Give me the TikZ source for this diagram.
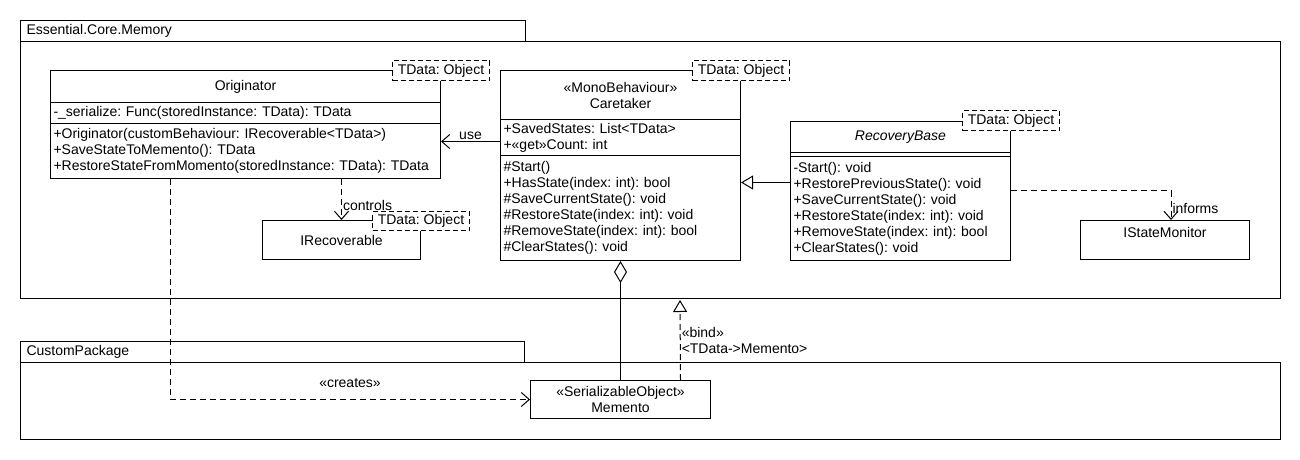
\documentclass[tikz,border=0pt]{standalone}
\usepackage{fontspec}
\setmainfont{Liberation Sans}
\usepackage{tikz}
\usetikzlibrary{arrows.meta}
\frenchspacing
\newcommand{\umlfont}{\fontsize{14}{16}\selectfont}
\tikzstyle{part}=[draw=black,fill=white,anchor=north west,
                  inner xsep=3pt,inner ysep=0pt,align=left,font=\umlfont]
\tikzstyle{head}=[part,align=center]
\tikzstyle{tparam}=[draw=black,fill=white,dash pattern=on 5pt off 3pt,
                    anchor=north west,inner sep=0pt,minimum width=97pt,
                    minimum height=20pt,font=\umlfont]
\tikzstyle{pkg}=[part,inner xsep=6pt]
\tikzstyle{dep}=[dash pattern=on 6pt off 4pt,
                 -{Straight Barb[length=8pt,width=14pt]}]
\tikzstyle{assoc}=[-{Straight Barb[length=8pt,width=14pt]}]
\tikzstyle{gen}=[-{Triangle[open,length=12pt,width=14pt]}]
\tikzstyle{real}=[dash pattern=on 6pt off 4pt,
                  -{Triangle[open,length=12pt,width=14pt]}]
\tikzstyle{agg}=[{Diamond[open,length=22pt,width=13pt]}-]
\tikzstyle{lbl}=[font=\umlfont,inner sep=1pt]

\begin{document}
\begin{tikzpicture}[x=1pt,y=1pt,line width=1pt]
    \useasboundingbox[fill=white] (0,0) rectangle (1300,-460);
    \node (coretab) at (20,-20) [pkg,text width=493,minimum height=21]
          {Essential.Core.Memory};
    \node (core) at (20,-41) [pkg,text width=1248,minimum height=257]{};
    \node (customtab) at (20,-341) [pkg,text width=492,minimum height=21]
          {CustomPackage};
    \node (custom) at (20,-362) [pkg,text width=1248,minimum height=77]{};

    \node (orighead) at (50,-70) [head,text width=384,minimum height=32]
          {Originator};
    \node (origattr) at (50,-102) [part,text width=384,minimum height=21]
          {-\_serialize: Func(storedInstance: TData): TData};
    \node (origops) at (50,-123) [part,text width=384,minimum height=55]
          {+Originator(customBehaviour: IRecoverable<TData>)\\
           +SaveStateToMemento(): TData\\
           +RestoreStateFromMomento(storedInstance: TData): TData};
    \node (origT) at (392,-60) [tparam]{TData: Object};

    \node (carehead) at (500,-70) [head,text width=234,minimum height=49]
          {«MonoBehaviour»\\Caretaker};
    \node (careattr) at (500,-119) [part,text width=234,minimum height=36]
          {+SavedStates: List<TData>\\+«get»Count: int};
    \node (careops) at (500,-155) [part,text width=234,minimum height=105]
          {\#Start()\\+HasState(index: int): bool\\\#SaveCurrentState(): void\\
           \#RestoreState(index: int): void\\\#RemoveState(index: int): bool\\
           \#ClearStates(): void};
    \node (careT) at (692,-60) [tparam]{TData: Object};

    \node (rbhead) at (790,-121) [head,text width=214,minimum height=31]
          {\itshape RecoveryBase};
    \node (rbattr) at (790,-152) [part,text width=214,minimum height=4]{};
    \node (rbops) at (790,-156) [part,text width=214,minimum height=104]
          {-Start(): void\\+RestorePreviousState(): void\\
           +SaveCurrentState(): void\\+RestoreState(index: int): void\\
           +RemoveState(index: int): bool\\+ClearStates(): void};
    \node (rbT) at (962,-110) [tparam]{TData: Object};

    \node (irec) at (262,-220) [head,text width=152,minimum height=39]
          {IRecoverable};
    \node (irecT) at (372,-211) [tparam,minimum height=19]{TData: Object};
    \node (ism) at (1080,-220) [head,text width=163,minimum height=39]
          {IStateMonitor\\\mbox{}};
    \node (memento) at (530,-380) [head,text width=174,minimum height=38]
          {«SerializableObject»\\Memento};
    \coordinate (bindend) at (680,-300);

    \draw[assoc] ([yshift=-4]careattr.west) -- ([yshift=-4]careattr.west -| origops.east)
          node[lbl,above,pos=0.5]{use};
    \draw[dep] (irec.north |- origops.south) -- (irec.north)
          node[lbl,right,pos=0.65]{controls};
    \draw[dep] ([xshift=120]origops.south west) |- (memento.west)
          node[lbl,above,pos=0.75,yshift=10]{«creates»};
    \draw[agg] (careops.south) -- (memento.north);
    \draw[real] ([xshift=60]memento.north) -- (bindend)
          node[lbl,right,align=left,pos=0.5]{«bind»\\<TData->Memento>};
    \draw[gen] ([yshift=26]rbops.west) -- ([yshift=26]rbops.west -| careops.east);
    \draw[dep] ([yshift=18]rbops.east) -| ([xshift=6]ism.north)
          node[lbl,right,pos=0.8]{informs};
  \end{tikzpicture}
\end{document}
